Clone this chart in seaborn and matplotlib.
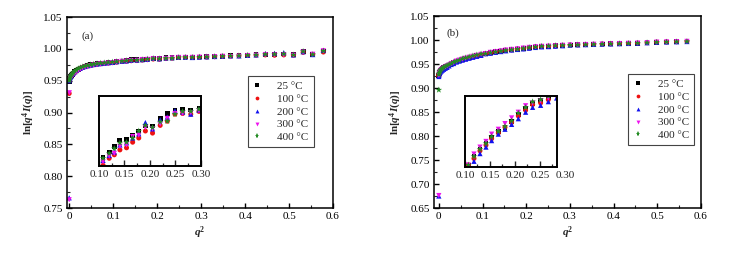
import numpy as np
import pandas as pd
import matplotlib
matplotlib.use("Agg")
import matplotlib.pyplot as plt
import matplotlib.transforms as mtransforms
from matplotlib.ticker import FixedLocator, MultipleLocator, FuncFormatter
import seaborn as sns

# ── Data ──────────────────────────────────────────────────────────────────────
TEMPS = ["25 °C", "100 °C", "200 °C", "300 °C", "400 °C"]
COLORS = ["#000000", "#ee1111", "#1111ee", "#ee11ee", "#228b22"]
MARKERS = ["s", "o", "^", "v", "*"]
MSIZES = [12, 13, 14, 14, 24]

# panel (a)
X_A = [0.0000, 0.0004, 0.0013, 0.0026, 0.0045, 0.0068, 0.0095, 0.0128, 0.0165, 0.0207,
       0.0253, 0.0305, 0.0361, 0.0422, 0.0488, 0.0558, 0.0633, 0.0713, 0.0797, 0.0887,
       0.0981, 0.108, 0.120, 0.130, 0.141, 0.154, 0.166, 0.178, 0.191, 0.205,
       0.220, 0.234, 0.249, 0.264, 0.280, 0.296, 0.313, 0.331, 0.349, 0.367,
       0.386, 0.406, 0.425, 0.446, 0.467, 0.488, 0.510, 0.532, 0.554, 0.578]

A_25 = [0.949, 0.951, 0.954, 0.956, 0.958, 0.960, 0.962, 0.964, 0.966, 0.968,
        0.970, 0.9715, 0.9727, 0.9738, 0.9748, 0.9757, 0.9765, 0.9772, 0.9778, 0.9784,
        0.9790, 0.9802, 0.9810, 0.9818, 0.9827, 0.9828, 0.9833, 0.9840, 0.9847, 0.9847,
        0.9858, 0.9865, 0.9870, 0.9871, 0.9870, 0.9872, 0.9876, 0.9880, 0.9885, 0.9890,
        0.9895, 0.9900, 0.9905, 0.9915, 0.9912, 0.9918, 0.9905, 0.9955, 0.9915, 0.9965]
A_100 = [0.930, 0.950, 0.953, 0.955, 0.957, 0.959, 0.961, 0.963, 0.965, 0.967,
         0.969, 0.9708, 0.9720, 0.9731, 0.9741, 0.9750, 0.9758, 0.9765, 0.9771, 0.9777,
         0.9783, 0.9791, 0.9801, 0.9806, 0.9813, 0.9816, 0.9824, 0.9830, 0.9840, 0.9837,
         0.9848, 0.9854, 0.9864, 0.9865, 0.9864, 0.9868, 0.9870, 0.9876, 0.9880, 0.9885,
         0.9890, 0.9895, 0.9900, 0.9905, 0.9900, 0.9905, 0.9900, 0.9945, 0.9910, 0.9950]
A_200 = [0.766, 0.950, 0.953, 0.955, 0.957, 0.960, 0.962, 0.964, 0.966, 0.968,
         0.9695, 0.9711, 0.9723, 0.9735, 0.9745, 0.9754, 0.9762, 0.9769, 0.9775, 0.9781,
         0.9787, 0.9798, 0.9805, 0.9810, 0.9820, 0.9823, 0.9830, 0.9836, 0.9852, 0.9843,
         0.9856, 0.9860, 0.9869, 0.9867, 0.9864, 0.9870, 0.9875, 0.9880, 0.9885, 0.9890,
         0.9890, 0.9898, 0.9905, 0.9925, 0.9930, 0.9940, 0.9905, 0.9955, 0.9910, 0.9975]
A_300 = [0.763, 0.931, 0.951, 0.954, 0.956, 0.958, 0.960, 0.962, 0.964, 0.966,
         0.968, 0.9700, 0.9713, 0.9725, 0.9736, 0.9746, 0.9755, 0.9763, 0.9770, 0.9777,
         0.9784, 0.9796, 0.9804, 0.9808, 0.9818, 0.9820, 0.9832, 0.9834, 0.9845, 0.9843,
         0.9850, 0.9858, 0.9865, 0.9865, 0.9866, 0.9869, 0.9873, 0.9878, 0.9883, 0.9880,
         0.9885, 0.9895, 0.9900, 0.9910, 0.9905, 0.9905, 0.9900, 0.9950, 0.9915, 0.9970]
A_400 = [0.950, 0.952, 0.955, 0.957, 0.959, 0.961, 0.963, 0.965, 0.967, 0.969,
         0.9705, 0.9719, 0.9731, 0.9741, 0.9751, 0.9760, 0.9768, 0.9775, 0.9781, 0.9787,
         0.9793, 0.9801, 0.9808, 0.9815, 0.9823, 0.9824, 0.9830, 0.9840, 0.9848, 0.9845,
         0.9853, 0.9854, 0.9864, 0.9868, 0.9868, 0.9871, 0.9875, 0.9880, 0.9885, 0.9888,
         0.9892, 0.9900, 0.9905, 0.9915, 0.9915, 0.9920, 0.9905, 0.9960, 0.9912, 0.9968]

# panel (b)
X_B = [0.0000, 0.0001, 0.0007, 0.0018, 0.0034, 0.0054, 0.0080, 0.0111, 0.0147, 0.0188,
       0.0233, 0.0284, 0.0340, 0.0401, 0.0467, 0.0537, 0.0613, 0.0694, 0.0780, 0.0870,
       0.0966, 0.1067, 0.1180, 0.1300, 0.1420, 0.1533, 0.1667, 0.1800, 0.1933, 0.2067,
       0.2213, 0.2353, 0.2513, 0.2667, 0.2833, 0.3004, 0.3180, 0.3360, 0.3546, 0.3737,
       0.3933, 0.4133, 0.4339, 0.4550, 0.4765, 0.4986, 0.5211, 0.5442, 0.5678]

B_25 = [0.926, 0.927, 0.930, 0.933, 0.936, 0.938, 0.940, 0.942, 0.944, 0.946,
        0.948, 0.951, 0.953, 0.955, 0.958, 0.960, 0.962, 0.964, 0.966, 0.968,
        0.970, 0.9715, 0.9735, 0.9754, 0.9768, 0.9784, 0.9798, 0.9808, 0.9822, 0.9840,
        0.9854, 0.9866, 0.9873, 0.9882, 0.9889, 0.9895, 0.9900, 0.9905, 0.9910, 0.9915,
        0.9920, 0.9925, 0.9930, 0.9935, 0.9945, 0.9955, 0.9960, 0.9965, 0.9970]
B_100 = [0.925, 0.926, 0.929, 0.932, 0.935, 0.937, 0.939, 0.941, 0.943, 0.945,
         0.947, 0.950, 0.952, 0.955, 0.957, 0.959, 0.961, 0.963, 0.965, 0.967,
         0.969, 0.9715, 0.9731, 0.9750, 0.9764, 0.9780, 0.9794, 0.9808, 0.9820, 0.9836,
         0.9850, 0.9864, 0.9868, 0.9876, 0.9887, 0.9894, 0.9899, 0.9904, 0.9909, 0.9914,
         0.9919, 0.9924, 0.9929, 0.9934, 0.9944, 0.9954, 0.9959, 0.9964, 0.9969]
B_200 = [0.675, 0.924, 0.927, 0.930, 0.933, 0.935, 0.937, 0.939, 0.941, 0.943,
         0.946, 0.949, 0.951, 0.954, 0.956, 0.958, 0.960, 0.962, 0.964, 0.966,
         0.968, 0.9714, 0.9724, 0.9743, 0.9759, 0.9775, 0.9791, 0.9803, 0.9815, 0.9829,
         0.9845, 0.9857, 0.9862, 0.9871, 0.9880, 0.9893, 0.9898, 0.9903, 0.9908, 0.9913,
         0.9918, 0.9923, 0.9928, 0.9933, 0.9943, 0.9953, 0.9958, 0.9963, 0.9968]
B_300 = [0.676, 0.926, 0.930, 0.933, 0.936, 0.938, 0.940, 0.942, 0.944, 0.946,
         0.948, 0.951, 0.953, 0.956, 0.958, 0.960, 0.962, 0.964, 0.966, 0.968,
         0.970, 0.9715, 0.9742, 0.9759, 0.9773, 0.9791, 0.9803, 0.9817, 0.9831, 0.9845,
         0.9861, 0.9868, 0.9873, 0.9880, 0.9889, 0.9896, 0.9901, 0.9906, 0.9911, 0.9916,
         0.9921, 0.9926, 0.9931, 0.9936, 0.9946, 0.9956, 0.9961, 0.9966, 0.9971]
B_400 = [0.896, 0.928, 0.931, 0.934, 0.937, 0.939, 0.941, 0.943, 0.945, 0.947,
         0.949, 0.951, 0.954, 0.956, 0.958, 0.961, 0.963, 0.965, 0.967, 0.969,
         0.971, 0.9715, 0.9736, 0.9754, 0.9768, 0.9785, 0.9798, 0.9810, 0.9824, 0.9843,
         0.9857, 0.9871, 0.9876, 0.9885, 0.9890, 0.9895, 0.9900, 0.9905, 0.9910, 0.9915,
         0.9920, 0.9925, 0.9930, 0.9935, 0.9945, 0.9955, 0.9960, 0.9965, 0.9970]

def long_frame(x, series):
    parts = [pd.DataFrame({"q2": x, "val": y, "T": t}) for t, y in zip(TEMPS, series)]
    return pd.concat(parts, ignore_index=True)

df_a = long_frame(X_A, [A_25, A_100, A_200, A_300, A_400])
df_b = long_frame(X_B, [B_25, B_100, B_200, B_300, B_400])

# ── Style ─────────────────────────────────────────────────────────────────────
sns.set_theme(style="ticks")
plt.rcParams["font.family"] = ["Liberation Serif", "DejaVu Serif"]
plt.rcParams["mathtext.fontset"] = "custom"
plt.rcParams["mathtext.rm"] = "Liberation Serif:bold"
plt.rcParams["mathtext.it"] = "Liberation Serif:italic:bold"
plt.rcParams["xtick.direction"] = "in"
plt.rcParams["ytick.direction"] = "in"

palette = dict(zip(TEMPS, COLORS))
markers = dict(zip(TEMPS, MARKERS))
msizes = dict(zip(TEMPS, MSIZES))

fig = plt.figure(figsize=(7.46, 2.54), dpi=100)
ax_a = fig.add_axes([0.0898, 0.181, 0.3566, 0.752])
ax_b = fig.add_axes([0.5818, 0.181, 0.3579, 0.756])
in_a = fig.add_axes([0.1327, 0.3465, 0.1367, 0.2756])
in_b = fig.add_axes([0.6233, 0.3425, 0.1233, 0.2795])


def draw(ax, df, legend):
    sns.scatterplot(data=df, x="q2", y="val", hue="T", style="T", size="T",
                    hue_order=TEMPS, style_order=TEMPS, size_order=TEMPS,
                    palette=palette, markers=markers, sizes=msizes,
                    linewidth=0, legend=legend, ax=ax)
    ax.set_xlabel("")
    ax.set_ylabel("")


def main_axis(ax, df, xlim, ylim, tag, tag_xy, leg_xy):
    draw(ax, df, True)
    ax.set_xlim(*xlim)
    ax.set_ylim(*ylim)
    ax.xaxis.set_major_locator(FixedLocator([0, 0.1, 0.2, 0.3, 0.4, 0.5, 0.6]))
    ax.xaxis.set_minor_locator(MultipleLocator(0.05))
    ax.xaxis.set_major_formatter(FuncFormatter(lambda v, _: "0" if abs(v) < 1e-9 else f"{v:.1f}"))
    ax.yaxis.set_major_locator(MultipleLocator(0.05))
    ax.yaxis.set_minor_locator(MultipleLocator(0.025))
    ax.yaxis.set_major_formatter(FuncFormatter(lambda v, _: f"{v:.2f}"))
    ax.tick_params(which="major", length=3.5, width=1.0, labelsize=8, pad=3,
                   top=False, right=False, colors="black")
    ax.tick_params(which="minor", length=2, width=0.8, top=False, right=False)
    for sp in ax.spines.values():
        sp.set_visible(True)
        sp.set_linewidth(1.1)
        sp.set_color("black")
    ax.set_xlabel("$q^2$", fontsize=8, labelpad=2)
    ax.set_ylabel("ln[$q^4I(q)$]", fontsize=8, fontweight="bold", labelpad=5)
    ax.text(tag_xy[0], tag_xy[1], tag, transform=ax.transAxes, fontsize=8)
    handles, labels = ax.get_legend_handles_labels()
    ax.legend(handles, labels, loc="upper left", bbox_to_anchor=leg_xy,
              frameon=True, fancybox=False, edgecolor="#444444", framealpha=1,
              fontsize=8, labelspacing=0.28, handlelength=0.8, handletextpad=1.4,
              borderpad=0.45, borderaxespad=0, markerscale=0.75)
    ax.get_legend().get_frame().set_linewidth(0.8)


def inset_axis(ax, df, xlim, ylim, extra_label=None):
    sub = df[(df["q2"] > 0.1) & (df["q2"] < 0.3)]
    draw(ax, sub, False)
    ax.set_xlim(*xlim)
    ax.set_ylim(*ylim)
    ax.xaxis.set_major_locator(FixedLocator([0.10, 0.15, 0.20, 0.25, 0.30]))
    ax.xaxis.set_minor_locator(FixedLocator([0.125, 0.175, 0.225, 0.275]))
    ax.xaxis.set_major_formatter(FuncFormatter(lambda v, _: f"{v:.2f}"))
    ax.set_yticks([])
    ax.tick_params(axis="x", which="major", length=4, width=1.0, labelsize=8, pad=3)
    ax.tick_params(axis="x", which="minor", length=2.5, width=0.9)
    for sp in ax.spines.values():
        sp.set_visible(True)
        sp.set_linewidth(1.4)
        sp.set_color("black")
    if extra_label is not None:
        # Origin draws the last label past the clipped axis end
        trans = mtransforms.blended_transform_factory(ax.transData, ax.transAxes)
        trans = trans + mtransforms.ScaledTranslation(0, -3 / 72, fig.dpi_scale_trans)
        ax.text(extra_label, 0, f"{extra_label:.2f}", transform=trans, fontsize=8,
                ha="center", va="top", clip_on=False)


main_axis(ax_a, df_a, (-0.005, 0.6), (0.75, 1.05), "(a)", (0.056, 0.885), (0.68, 0.691))
main_axis(ax_b, df_b, (-0.011, 0.6), (0.65, 1.05), "(b)", (0.045, 0.895), (0.727, 0.698))
inset_axis(in_a, df_a, (0.10, 0.30), (0.979, 0.989))
inset_axis(in_b, df_b, (0.10, 0.284), (0.971, 0.9885), extra_label=0.30)

fig.savefig("out.png", dpi=100)
plt.close(fig)
